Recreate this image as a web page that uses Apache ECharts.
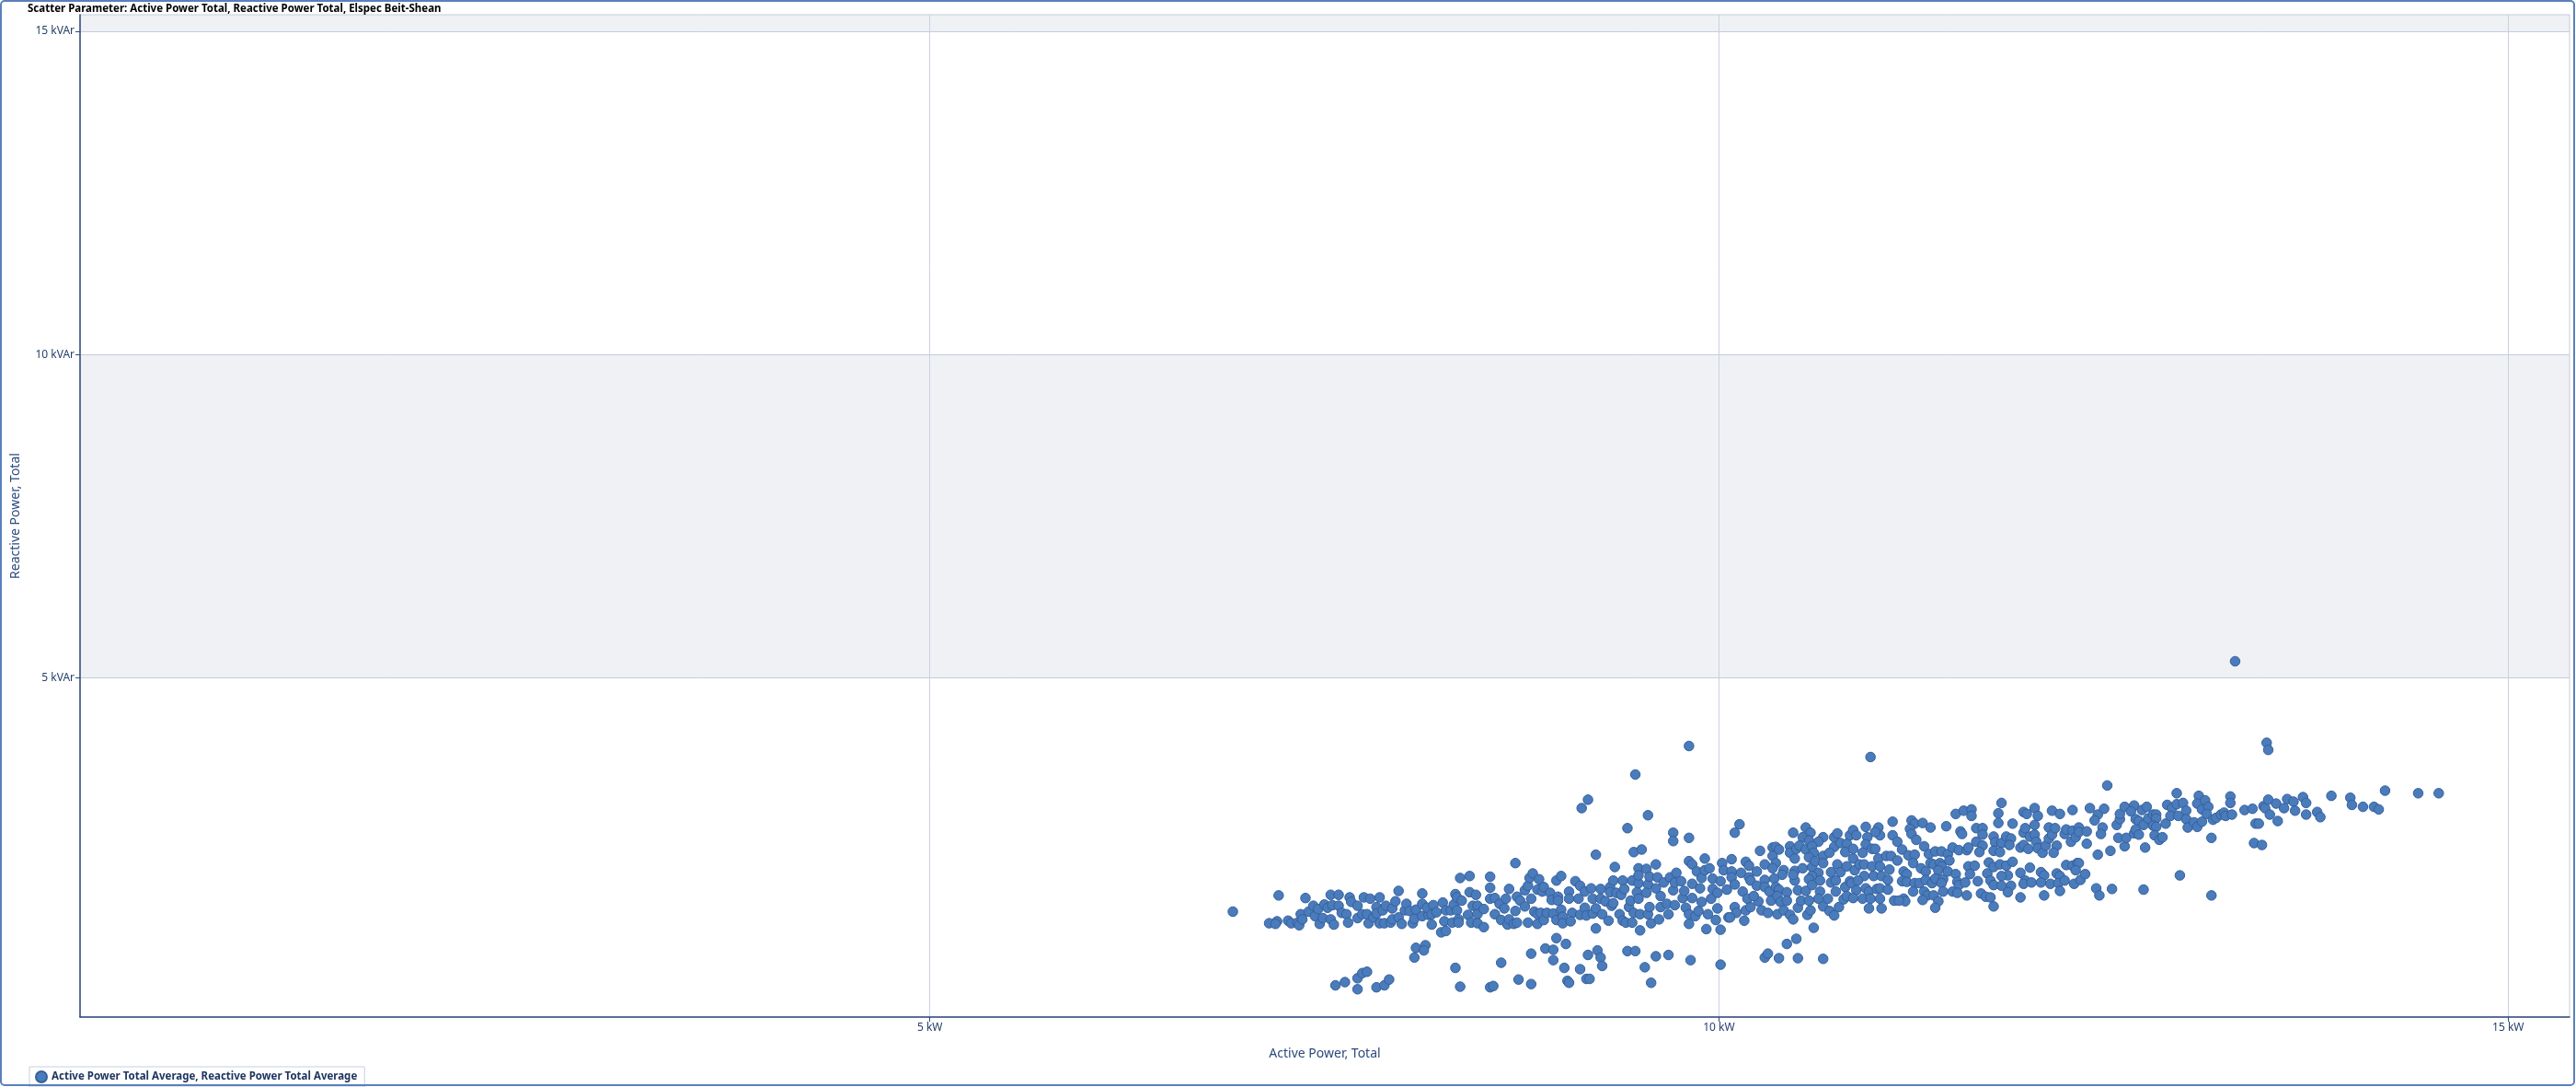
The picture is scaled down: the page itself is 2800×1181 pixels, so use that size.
<!DOCTYPE html>
<html><head><meta charset="utf-8">
<script src="https://cdn.jsdelivr.net/npm/echarts@6/dist/echarts.min.js"></script>
<style>html,body{margin:0;padding:0;background:#fff}#c{width:2800px;height:1181px}</style>
</head><body><div id="c"></div>
<script>
const chartTitle = 'Scatter Parameter: Active Power Total, Reactive Power Total, Elspec Beit-Shean';
const seriesName = 'Active Power Total Average, Reactive Power Total Average';
const xAxisTitle = 'Active Power, Total';
const yAxisTitle = 'Reactive Power, Total';
const xTicks = [5, 10, 15];
const yTicks = [5, 10, 15];
const xRange = [-0.384, 15.389];
const yRange = [-0.24, 15.255];
const xUnit = 'kW';
const yUnit = 'kVAr';
// [active power kW, reactive power kVAr]
const samples = [
[6.92,1.39],[7.21,1.64],[7.38,1.60],[7.15,1.21],[7.20,1.24],[7.19,1.20],[7.27,1.25],[7.29,1.21],[7.33,1.22],[7.34,1.18],[7.35,1.35],[7.36,1.27],[7.40,1.39],[7.43,1.48],[7.44,1.32],[7.46,1.43],[7.47,1.20],[7.49,1.29],[7.50,1.50],[7.52,1.45],[7.54,1.65],[7.54,1.27],[7.55,1.49],[7.56,1.19],[7.59,1.65],[7.59,1.48],[7.61,1.37],[7.64,1.35],[7.65,1.22],[7.66,1.61],[7.67,1.54],[7.71,1.29],[7.71,1.48],[7.74,1.35],[7.75,1.61],[7.79,1.59],[7.77,1.35],[7.78,1.21],[7.81,1.30],[7.83,1.46],[7.83,1.36],[7.85,1.61],[7.85,1.21],[7.87,1.41],[7.88,1.21],[7.89,1.48],[7.92,1.22],[7.93,1.27],[7.93,1.44],[7.95,1.55],[7.97,1.71],[7.97,1.30],[7.99,1.20],[8.01,1.41],[8.02,1.51],[8.04,1.40],[8.06,1.21],[8.07,1.28],[8.08,1.42],[8.12,1.67],[8.12,1.51],[8.12,1.32],[8.16,1.34],[8.15,1.45],[8.18,1.19],[8.19,1.49],[8.18,1.35],[8.21,1.38],[8.25,1.53],[8.26,1.24],[8.27,1.41],[8.24,1.07],[8.27,1.09],[8.30,1.41],[8.31,1.22],[8.32,1.50],[8.33,1.66],[8.34,1.61],[8.36,1.91],[8.42,1.94],[8.37,1.56],[8.34,1.41],[8.35,1.27],[8.35,1.22],[8.41,1.34],[8.42,1.69],[8.46,1.65],[8.44,1.48],[8.43,1.22],[8.47,1.48],[8.47,1.35],[8.47,1.21],[8.08,0.83],[8.14,0.87],[8.13,0.79],[8.07,0.68],[8.33,0.52],[8.36,0.23],[7.57,0.25],[7.63,0.30],[7.71,0.36],[7.74,0.44],[7.77,0.46],[7.71,0.19],[7.83,0.22],[7.88,0.25],[7.91,0.34],
[9.81,3.95],[9.47,3.51],[9.13,2.99],[9.17,3.12],[9.55,2.88],[9.42,2.68],[9.71,2.61],[9.71,2.48],[9.81,2.53],[9.22,2.27],[9.46,2.31],[9.51,2.35],[8.71,2.14],[9.34,2.08],[9.60,2.12],[9.91,2.21],[9.81,2.17],[9.83,2.12],
[8.55,1.93],[8.55,1.76],[8.67,1.74],[8.55,1.59],[8.58,1.60],[8.51,1.43],[8.58,1.35],[8.51,1.15],[8.62,1.26],[8.61,1.51],[8.65,1.59],[8.64,1.44],[8.66,1.19],[8.67,1.27],[8.70,1.20],[8.72,1.22],[8.71,1.40],[8.72,1.62],[8.74,1.56],[8.77,1.47],[8.77,1.72],[8.79,1.79],[8.80,1.91],[8.82,1.98],[8.79,1.22],[8.81,1.59],[8.83,1.39],[8.85,1.73],[8.85,1.35],[8.85,1.20],[8.86,1.89],[8.87,1.37],[8.88,1.70],[8.89,1.77],[8.89,1.26],[8.91,1.37],[8.93,1.68],[8.94,1.57],[8.95,1.36],[8.97,1.87],[9.00,1.94],[8.98,1.62],[8.98,1.56],[8.97,1.26],[9.00,1.42],[9.01,1.31],[9.01,1.21],[9.05,1.70],[9.05,1.59],[9.07,1.37],[9.06,1.24],[9.09,1.86],[9.12,1.79],[9.11,1.59],[9.12,1.34],[9.15,1.70],[9.15,1.45],[9.16,1.33],[9.19,1.75],[9.20,1.59],[9.20,1.36],[9.22,1.44],[9.25,1.74],[9.25,1.59],[9.26,1.35],[9.28,1.55],[9.31,1.77],[9.31,1.69],[9.32,1.48],[9.30,1.25],[9.33,1.52],[9.33,1.87],[9.35,1.68],[9.37,1.35],[9.38,1.65],[9.39,1.87],[9.40,1.74],[9.39,1.25],[9.41,1.22],[9.43,1.46],[9.44,1.56],[9.45,1.87],[9.45,1.22],[9.46,1.37],[9.48,1.69],[9.49,1.83],[9.49,2.06],[9.49,1.95],[9.49,1.59],[9.50,1.35],[9.54,2.05],[9.55,1.81],[9.54,1.68],[9.55,1.35],[9.56,1.93],[9.56,1.46],[9.57,1.21],[9.60,1.75],[9.61,1.92],[9.62,1.27],[9.63,1.63],[9.63,1.46],[9.65,1.84],[9.67,1.51],[9.68,1.35],[9.69,1.92],[9.71,1.72],[9.72,1.84],[9.73,1.99],[9.72,1.49],[9.76,1.86],[9.77,1.60],[9.78,1.71],[9.79,1.45],[9.81,1.20],[9.81,1.35],[9.83,1.82],[9.83,1.60],[9.85,1.32],[9.86,2.01],[9.87,1.40],[9.88,1.75],[9.89,1.54],[9.89,1.91],[9.91,2.03],[9.92,1.12],[9.93,1.35],[9.94,2.06],[9.95,1.59],[9.96,1.90],[9.96,1.74],[9.98,1.26],[9.99,1.68],[9.99,1.44],[10.01,1.11],[10.01,1.86],[10.02,2.14],[10.03,2.03],[10.05,1.73],[10.06,1.30],
[8.62,0.60],[8.81,0.74],[8.90,0.82],[8.95,0.80],[8.95,0.64],[8.97,0.98],[9.03,0.89],[9.02,0.52],[8.55,0.22],[8.57,0.24],[8.73,0.34],[8.81,0.27],[9.04,0.32],[9.05,0.29],[9.12,0.50],[9.16,0.35],[9.18,0.35],[9.17,0.72],[9.23,0.79],[9.25,0.68],[9.26,0.55],[9.22,1.13],[9.42,0.78],[9.47,0.78],[9.50,1.10],[9.53,0.53],[9.57,0.29],[9.60,0.70],[9.68,0.72],[9.82,0.64],[10.01,0.57],
[10.96,3.78],[10.13,2.74],[10.10,2.61],[10.47,2.61],[10.55,2.69],[10.58,2.61],[10.53,2.54],[10.57,2.49],[10.66,2.54],[10.63,2.47],[10.73,2.54],[10.75,2.60],[10.73,2.39],[10.26,2.33],[10.34,2.38],[10.36,2.39],[10.38,2.35],[10.45,2.40],[10.45,2.30],[10.49,2.36],[10.51,2.41],[10.55,2.35],[10.59,2.40],[10.60,2.30],[10.48,2.21],[10.34,2.25],[10.57,2.23],[10.66,2.25],[10.70,2.30],[10.77,2.45],[10.81,2.44],[10.80,2.31],[10.85,2.36],[10.83,2.57],[10.85,2.65],[10.87,2.57],[10.93,2.70],[10.94,2.54],[10.93,2.43],[10.91,2.30],[10.97,2.36],[10.99,2.36],[11.01,2.69],[11.02,2.57],[10.99,2.62],[11.10,2.78],[11.10,2.57],[11.13,2.47],[11.16,2.35],[11.01,2.21],[11.06,2.25],[11.09,2.25],[11.13,2.18],[11.08,2.04],[10.85,2.21],
[10.08,2.20],[10.17,2.16],[10.19,2.10],[10.29,2.12],[10.36,2.14],[10.34,2.06],[10.41,2.03],[10.40,1.96],[10.48,2.02],[10.53,2.06],[10.59,2.08],[10.61,2.17],[10.66,2.14],[10.63,1.99],[10.59,1.94],[10.71,2.00],[10.75,2.12],[10.77,2.00],[10.81,2.09],[10.86,2.03],[10.89,2.12],[10.92,2.12],[10.92,1.94],[10.97,2.09],[10.98,1.94],[11.02,2.09],[11.03,1.94],[11.07,1.88],[10.14,1.99],[10.24,2.01],[10.08,2.01],
[10.08,1.92],[10.10,1.81],[10.19,1.92],[10.20,1.87],[10.24,1.79],[10.29,1.88],[10.35,1.90],[10.29,1.77],[10.32,1.70],[10.36,1.77],[10.38,1.73],[10.43,1.69],[10.48,1.87],[10.47,1.96],[10.50,1.72],[10.55,1.71],[10.57,1.89],[10.59,1.80],[10.64,1.87],[10.64,1.70],[10.71,1.84],[10.74,1.87],[10.74,1.70],[10.80,1.77],[10.83,1.86],[10.84,1.83],[10.88,1.87],[10.87,1.72],[10.93,1.75],[10.95,1.70],[11.00,1.74],[11.02,1.75],[11.07,1.73],[10.15,1.70],
[10.18,1.59],[10.25,1.55],[10.22,1.63],[10.10,1.46],[10.11,1.37],[10.07,1.30],[10.16,1.25],[10.17,1.41],[10.20,1.46],[10.27,1.41],[10.31,1.37],[10.33,1.56],[10.37,1.63],[10.39,1.54],[10.37,1.35],[10.41,1.41],[10.43,1.56],[10.45,1.34],[10.47,1.27],[10.50,1.45],[10.52,1.56],[10.56,1.34],[10.58,1.41],[10.57,1.56],[10.63,1.59],[10.66,1.47],[10.69,1.59],[10.70,1.40],[10.73,1.33],[10.76,1.46],[10.79,1.58],[10.81,1.63],[10.85,1.60],[10.91,1.59],[10.96,1.59],[10.95,1.44],[11.02,1.59],[11.03,1.44],[10.60,1.14],
[10.43,0.89],[10.49,0.97],[10.29,0.68],[10.31,0.74],[10.38,0.67],[10.50,0.67],[10.66,0.66],
[11.22,2.80],[11.24,2.75],[11.29,2.76],[11.34,2.69],[11.21,2.67],[11.22,2.59],[11.25,2.50],[11.44,2.71],[11.50,2.90],[11.55,2.95],[11.60,2.97],[11.60,2.87],[11.53,2.63],[11.54,2.59],[11.63,2.68],[11.67,2.68],[11.67,2.58],[11.30,2.40],[11.33,2.28],[11.37,2.32],[11.41,2.32],[11.45,2.28],[11.48,2.38],[11.52,2.34],[11.57,2.34],[11.58,2.38],[11.63,2.47],[11.67,2.41],[11.65,2.31],[11.20,2.26],[11.24,2.27],[11.23,2.14],[11.34,2.14],[11.36,2.12],[11.40,2.14],[11.46,2.18],[11.41,2.09],[11.39,2.03],[11.28,2.06],[11.31,2.01],[11.17,2.01],[11.19,1.97],[11.16,1.86],[11.19,1.85],[11.24,1.83],[11.27,1.83],[11.31,1.88],[11.35,1.83],[11.37,1.90],[11.42,1.89],[11.41,1.83],[11.45,2.01],[11.50,1.97],[11.51,1.85],[11.52,1.80],[11.56,1.84],[11.58,2.09],[11.59,1.97],[11.62,2.10],[11.64,1.86],[11.70,1.98],[11.71,2.15],[11.23,1.70],[11.30,1.70],[11.32,1.64],[11.36,1.64],[11.42,1.70],[11.48,1.70],[11.51,1.68],[11.57,1.64],[11.66,1.67],[11.69,1.62],[11.11,1.56],[11.17,1.59],[11.18,1.55],[11.29,1.57],[11.39,1.55],[11.37,1.45],[11.14,1.56],
[12.46,3.34],[11.79,3.07],[11.77,2.91],[11.77,2.76],[11.86,2.75],[11.93,2.93],[11.95,2.90],[12.00,2.99],[12.02,2.87],[12.00,2.73],[12.11,2.95],[12.16,2.90],[12.24,2.96],[12.35,2.99],[12.40,2.89],[12.44,2.98],[12.38,2.80],[12.43,2.69],[12.42,2.59],[12.52,2.73],[12.54,2.82],[12.54,2.90],[12.57,3.01],[12.63,3.03],[12.61,2.94],[12.64,2.82],[12.68,2.96],[12.71,3.01],[12.66,2.79],[12.69,2.73],[12.72,2.83],[12.75,2.89],[12.77,2.89],[12.77,2.83],[12.75,2.72],[12.77,2.70],[12.83,2.75],[12.84,3.04],[12.87,2.99],[12.90,3.22],[12.90,3.05],[12.94,3.07],[12.96,2.95],[12.86,2.87],[12.91,2.87],[12.96,2.82],[12.97,2.69],[13.01,2.77],[13.03,2.70],[13.06,2.78],[13.04,3.18],[13.03,3.06],[13.08,3.11],[13.06,2.97],[13.10,3.01],[13.09,2.90],[12.92,1.95],[12.69,1.73],
[11.74,2.55],[11.75,2.46],[11.79,2.45],[11.82,2.55],[11.85,2.52],[11.84,2.42],[11.74,2.33],[11.78,2.31],[11.91,2.38],[11.93,2.42],[11.96,2.36],[11.93,2.61],[11.94,2.68],[11.97,2.55],[12.00,2.58],[12.01,2.47],[12.02,2.37],[12.05,2.30],[12.07,2.41],[12.09,2.52],[12.09,2.69],[12.11,2.58],[12.13,2.68],[12.14,2.41],[12.12,2.30],[12.19,2.59],[12.20,2.66],[12.24,2.64],[12.23,2.47],[12.26,2.54],[12.28,2.69],[12.28,2.62],[12.33,2.63],[12.33,2.44],[12.40,2.27],[12.48,2.33],[12.53,2.53],[12.57,2.40],[12.58,2.53],[12.63,2.60],[12.64,2.66],[12.66,2.58],[12.70,2.38],[12.76,2.57],[12.79,2.50],[12.81,2.54],
[11.74,2.08],[11.78,2.12],[11.82,2.10],[11.86,2.16],[11.83,1.95],[11.79,1.94],[11.72,1.87],[11.74,1.80],[11.79,1.79],[11.85,1.79],[11.83,1.69],[11.72,1.61],[11.74,1.47],[11.91,1.99],[11.97,2.07],[11.94,1.87],[11.93,1.82],[11.98,1.84],[11.91,1.61],[12.04,2.00],[12.06,1.95],[12.04,1.84],[12.10,1.82],[12.06,1.64],[12.14,1.98],[12.16,1.94],[12.15,1.83],[12.19,1.87],[12.16,1.71],[12.20,2.11],[12.24,2.10],[12.27,2.14],[12.28,2.14],[12.26,2.03],[12.25,1.82],[12.29,1.88],[12.32,1.97],[12.39,1.75],[12.41,1.64],[12.49,1.74],
[13.27,5.26],[13.47,4.00],[13.48,3.89],[13.13,2.81],[13.15,2.84],[13.18,2.89],[13.20,2.92],[13.21,2.87],[13.25,2.89],[13.24,3.17],[13.24,3.07],[13.12,2.53],[13.12,1.64],[13.33,2.96],[13.38,2.98],[13.40,2.75],[13.42,2.75],[13.39,2.45],[13.44,2.42],[13.45,3.02],[13.46,2.99],[13.48,3.12],[13.49,2.89],[13.53,3.06],[13.54,2.79],[13.58,2.99],[13.60,3.13],[13.64,3.09],[13.65,2.95],[13.70,3.16],[13.72,3.07],[13.72,2.89],[13.79,2.93],[13.81,2.85],[13.88,3.18],[14.00,3.15],[14.01,3.04],[14.08,3.01],[14.15,3.01],[14.18,2.97],[14.22,3.26],[14.43,3.22],[14.56,3.22]
];
// shaded horizontal bands [from, to] in kVAr
const shadedBands = [[5, 10], [15, yRange[1]]];

const navy = '#2c4a7c';
const labelColor = '#243f6b';
const font = 'Noto Sans';
const chart = echarts.init(document.getElementById('c'), null, {renderer: 'canvas'});
chart.setOption({
  animation: false,
  backgroundColor: '#ffffff',
  textStyle: {fontFamily: font},
  title: {
    text: chartTitle, left: 30, top: 4, padding: 0,
    textStyle: {fontFamily: font, fontSize: 11.5, fontWeight: 'bold', color: '#000000'}
  },
  grid: {left: 87, right: 7, top: 16, bottom: 76, show: true, borderColor: '#c3cddd', borderWidth: 1, backgroundColor: 'transparent'},
  legend: {
    left: 32, top: 1159, padding: [4, 8, 4, 6], itemWidth: 12, itemHeight: 12,
    borderColor: '#c8d0dc', borderWidth: 1, icon: 'circle',
    textStyle: {fontFamily: font, fontSize: 11.5, fontWeight: 'bold', color: '#1f3560'},
    data: [seriesName]
  },
  xAxis: {
    type: 'value', min: xRange[0], max: xRange[1],
    name: xAxisTitle, nameLocation: 'middle', nameGap: 33,
    nameTextStyle: {fontFamily: font, fontSize: 14, color: navy},
    axisLine: {show: true, onZero: false, lineStyle: {color: navy, width: 1.5}},
    axisTick: {show: true, length: 5, customValues: xTicks, lineStyle: {color: navy}},
    axisLabel: {customValues: xTicks, formatter: v => v + ' ' + xUnit, margin: 6, color: labelColor, fontSize: 12, fontFamily: font},
    splitLine: {show: true, lineStyle: {color: '#cad2de', width: 1}},
    splitArea: {show: false}
  },
  yAxis: {
    type: 'value', min: yRange[0], max: yRange[1],
    name: yAxisTitle, nameLocation: 'middle', nameGap: 63,
    nameTextStyle: {fontFamily: font, fontSize: 14, color: navy},
    axisLine: {show: true, onZero: false, lineStyle: {color: navy, width: 1.5}},
    axisTick: {show: true, length: 5, customValues: yTicks, lineStyle: {color: navy}},
    axisLabel: {customValues: yTicks, formatter: v => v + ' ' + yUnit, margin: 6, color: labelColor, fontSize: 12, fontFamily: font},
    splitLine: {show: true, lineStyle: {color: '#bfcde3', width: 1}},
    splitArea: {show: false}
  },
  graphic: [{
    type: 'rect', silent: true, z: 100,
    shape: {x: 1, y: 1, width: 2797, height: 1178, r: 4},
    style: {fill: 'none', stroke: '#5a80bb', lineWidth: 2}
  }],
  series: [{
    type: 'scatter', name: seriesName, data: samples, symbol: 'circle', symbolSize: 10.5,
    itemStyle: {color: '#4a7bbb', borderColor: '#35609d', borderWidth: 1, opacity: 1},
    markArea: {
      silent: true, z: -1,
      itemStyle: {color: '#f0f1f5'},
      data: shadedBands.map(b => [{yAxis: b[0]}, {yAxis: b[1]}])
    }
  }]
});
</script></body></html>
